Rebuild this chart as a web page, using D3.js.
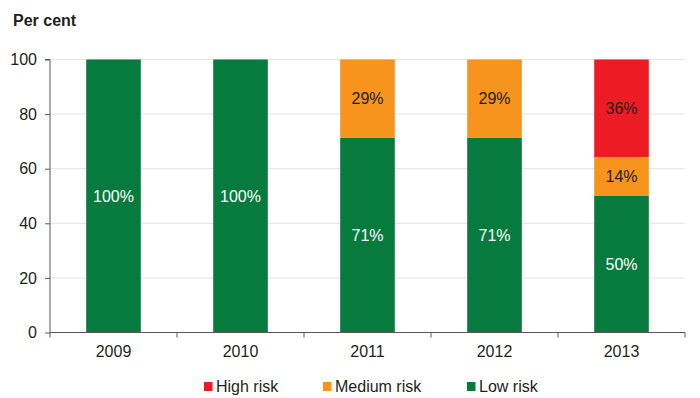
<!DOCTYPE html>
<html>
<head>
<meta charset="utf-8">
<script src="https://cdn.jsdelivr.net/npm/d3@7"></script>
<style>
  body { margin: 0; background: #fff; }
  svg { font-family: "Liberation Sans", Arial, sans-serif; }
</style>
</head>
<body>
<div id="chart"></div>
<script>
// data
const years = ['2009', '2010', '2011', '2012', '2013'];
const lowRisk = [100, 100, 71.4, 71.4, 50];
const mediumRisk = [0, 0, 28.6, 28.6, 14.3];
const highRisk = [0, 0, 0, 0, 35.7];
const lowLabels = ['100%', '100%', '71%', '71%', '50%'];
const mediumLabels = ['', '', '29%', '29%', '14%'];
const highLabels = ['', '', '', '', '36%'];
const yTicks = [0, 20, 40, 60, 80, 100];

const seriesNames = ['Low risk', 'Medium risk', 'High risk'];
const seriesColors = { 'Low risk': '#077a3d', 'Medium risk': '#f7941d', 'High risk': '#ed1c24' };
const labelColors = { 'Low risk': '#ffffff', 'Medium risk': '#231f20', 'High risk': '#231f20' };
const legendOrder = ['High risk', 'Medium risk', 'Low risk'];

const width = 700, height = 398;
const plotLeft = 50, plotRight = 685, plotTop = 59.5, plotBottom = 332.5;
const fontSize = 16;

const rows = years.map((y, i) => ({
	year: y,
	'Low risk': lowRisk[i],
	'Medium risk': mediumRisk[i],
	'High risk': highRisk[i],
	labels: { 'Low risk': lowLabels[i], 'Medium risk': mediumLabels[i], 'High risk': highLabels[i] }
}));

const stacked = d3.stack().keys(seriesNames)(rows);

const svg = d3.select('#chart').append('svg')
	.attr('width', width)
	.attr('height', height);

const x = d3.scaleBand().domain(years).range([plotLeft, plotRight])
	.paddingInner(0.57).paddingOuter(0.285);
const xCat = d3.scaleBand().domain(years).range([plotLeft, plotRight]).padding(0);
const y = d3.scaleLinear().domain([0, 100]).range([plotBottom, plotTop]);

// gridlines
svg.append('g')
	.selectAll('line')
	.data(yTicks.filter(d => d > 0))
	.enter()
		.append('line')
			.attr('x1', plotLeft)
			.attr('x2', plotRight)
			.attr('y1', d => y(d))
			.attr('y2', d => y(d))
			.attr('stroke', '#e3e3e3')
			.attr('stroke-width', 1);

// bars
const layers = svg.append('g').selectAll('g')
	.data(stacked)
	.enter()
		.append('g')
			.attr('fill', d => seriesColors[d.key]);

layers.selectAll('rect')
	.data(d => d.filter(s => s[1] - s[0] > 0))
	.enter()
		.append('rect')
			.attr('x', d => x(d.data.year))
			.attr('width', x.bandwidth())
			.attr('y', d => y(d[1]))
			.attr('height', d => y(d[0]) - y(d[1]));

// value labels
stacked.forEach(layer => {
	svg.append('g').selectAll('text')
		.data(layer.filter(s => s[1] - s[0] > 0))
		.enter()
			.append('text')
				.attr('x', d => x(d.data.year) + x.bandwidth() / 2)
				.attr('y', d => y((d[0] + d[1]) / 2))
				.attr('dy', '0.35em')
				.attr('text-anchor', 'middle')
				.attr('font-size', fontSize)
				.attr('fill', labelColors[layer.key])
				.text(d => d.data.labels[layer.key]);
});

// y axis
const yAxis = svg.append('g')
	.attr('transform', `translate(${plotLeft},0)`)
	.call(d3.axisLeft(y).tickValues(yTicks).tickSize(5).tickPadding(8));
yAxis.select('.domain').attr('stroke', '#595959').attr('d', `M-5,${plotTop}H0V${plotBottom}`);
yAxis.selectAll('.tick line').attr('stroke', '#595959');
yAxis.selectAll('.tick text').attr('font-size', fontSize).attr('fill', '#231f20')
	.attr('font-family', '"Liberation Sans", Arial, sans-serif');

// x axis
const xAxis = svg.append('g')
	.attr('transform', `translate(0,${plotBottom})`)
	.call(d3.axisBottom(xCat).tickSize(0).tickPadding(13));
xAxis.select('.domain').attr('stroke', '#595959').attr('d', `M${plotLeft},0H${plotRight}`);
xAxis.selectAll('.tick text').attr('font-size', fontSize).attr('fill', '#231f20')
	.attr('font-family', '"Liberation Sans", Arial, sans-serif');
xAxis.append('g').selectAll('line')
	.data(years.map(d => xCat(d)).concat([plotRight]))
	.enter()
		.append('line')
			.attr('x1', d => d)
			.attr('x2', d => d)
			.attr('y1', 0)
			.attr('y2', 5)
			.attr('stroke', '#595959');

// title
svg.append('text')
	.attr('x', 13)
	.attr('y', 26)
	.attr('font-size', fontSize)
	.attr('font-weight', 'bold')
	.attr('fill', '#231f20')
	.text('Per cent');

// legend
const legendX = { 'High risk': 204, 'Medium risk': 323, 'Low risk': 467 };
const legend = svg.append('g').selectAll('g')
	.data(legendOrder)
	.enter()
		.append('g')
			.attr('transform', d => `translate(${legendX[d]},382)`);
legend.append('rect')
	.attr('width', 8.5)
	.attr('height', 9)
	.attr('fill', d => seriesColors[d]);
legend.append('text')
	.attr('x', 12)
	.attr('y', 9.5)
	.attr('font-size', fontSize)
	.attr('fill', '#231f20')
	.text(d => d);
</script>
</body>
</html>
